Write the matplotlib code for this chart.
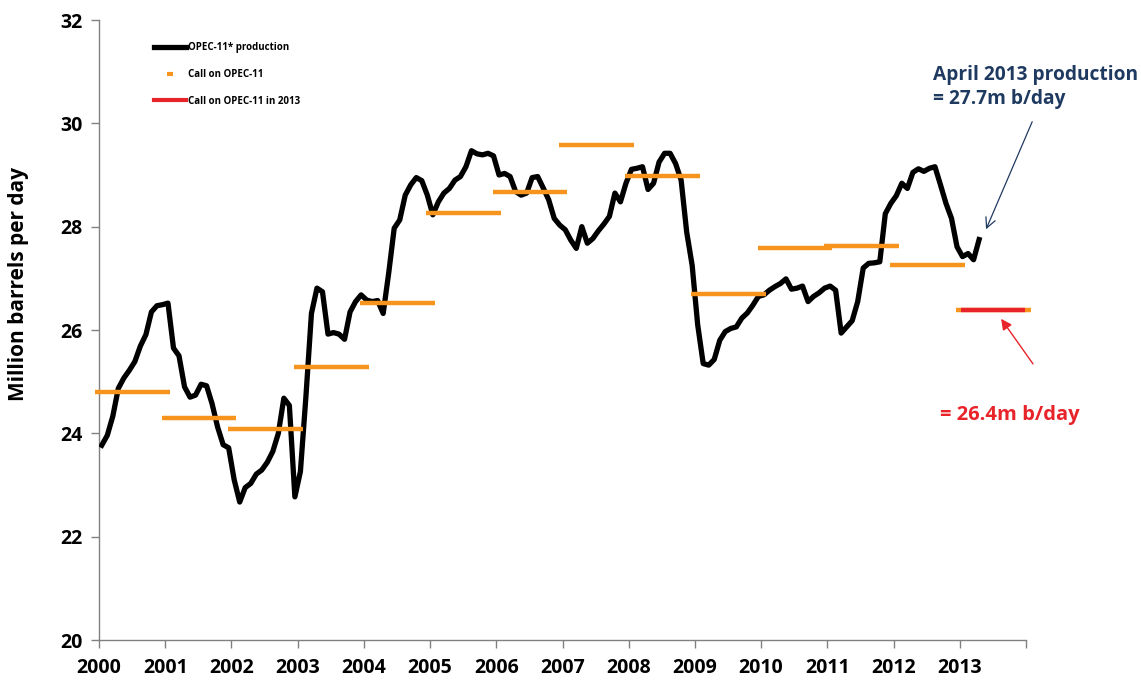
import numpy as np
import matplotlib.pyplot as plt
from matplotlib.lines import Line2D

plt.rcParams['font.family'] = ['Open Sans', 'DejaVu Sans']

# monthly OPEC-11 production, million b/d
prod_2000 = [23.77, 23.96, 24.33, 24.87, 25.07, 25.22, 25.39, 25.69, 25.91, 26.35, 26.47, 26.49]
prod_2001 = [26.52, 25.65, 25.50, 24.90, 24.70, 24.74, 24.95, 24.92, 24.57, 24.12, 23.78, 23.72]
prod_2002 = [23.10, 22.67, 22.95, 23.03, 23.21, 23.29, 23.44, 23.65, 24.00, 24.68, 24.54, 22.77]
prod_2003 = [23.26, 24.71, 26.32, 26.81, 26.74, 25.92, 25.95, 25.92, 25.82, 26.35, 26.55, 26.68]
prod_2004 = [26.58, 26.55, 26.57, 26.32, 27.10, 27.97, 28.13, 28.61, 28.81, 28.95, 28.89, 28.61]
prod_2005 = [28.23, 28.48, 28.65, 28.74, 28.90, 28.97, 29.16, 29.47, 29.41, 29.39, 29.42, 29.37]
prod_2006 = [29.00, 29.03, 28.97, 28.68, 28.61, 28.65, 28.95, 28.97, 28.75, 28.52, 28.16, 28.03]
prod_2007 = [27.94, 27.74, 27.58, 28.00, 27.68, 27.77, 27.92, 28.05, 28.20, 28.65, 28.48, 28.84]
prod_2008 = [29.11, 29.13, 29.16, 28.72, 28.84, 29.25, 29.42, 29.42, 29.22, 28.90, 27.90, 27.25]
prod_2009 = [26.10, 25.35, 25.32, 25.43, 25.80, 25.97, 26.03, 26.06, 26.23, 26.33, 26.48, 26.65]
prod_2010 = [26.68, 26.77, 26.84, 26.90, 26.99, 26.79, 26.81, 26.85, 26.55, 26.65, 26.72, 26.81]
prod_2011 = [26.85, 26.77, 25.94, 26.06, 26.18, 26.55, 27.20, 27.29, 27.30, 27.32, 28.25, 28.45]
prod_2012 = [28.60, 28.84, 28.74, 29.05, 29.12, 29.07, 29.13, 29.16, 28.81, 28.45, 28.16, 27.61]
prod_2013 = [27.42, 27.48, 27.36, 27.75]

production = np.concatenate([prod_2000, prod_2001, prod_2002, prod_2003, prod_2004,
                             prod_2005, prod_2006, prod_2007, prod_2008, prod_2009,
                             prod_2010, prod_2011, prod_2012, prod_2013])
months = 2000 + (np.arange(len(production)) + 0.5) / 12.0

call_years = np.arange(2000, 2014)
call_values = [24.80, 24.29, 24.08, 25.29, 26.52, 28.26, 28.68, 29.59, 28.99, 26.70,
               27.59, 27.62, 27.25, 26.39]
call_2013 = 26.39

orange = '#F7941D'
red = '#E8242A'
navy = '#1F3A60'
grey = '#808080'

fig = plt.figure(figsize=(11.41, 6.8), dpi=100)
ax = fig.add_axes([99/1141, 40/680, 927/1141, 620/680])

ax.plot(months, production, color='black', lw=3.8, solid_joinstyle='round', zorder=3)
ax.hlines(call_values, call_years - 0.055, call_years + 1.075, color=orange, lw=3.2,
          zorder=4, clip_on=False)
ax.hlines(call_2013, 2013.02, 2013.98, color=red, lw=3.2, zorder=5, clip_on=False)

ax.set_xlim(2000, 2014)
ax.set_ylim(20, 32)
ax.set_xticks(np.arange(2000, 2015))
ax.set_xticklabels([str(y) for y in range(2000, 2014)] + [''])
ax.set_yticks(np.arange(20, 33, 2))

for s in ['top', 'right']:
    ax.spines[s].set_visible(False)
for s in ['left', 'bottom']:
    ax.spines[s].set_color(grey)
    ax.spines[s].set_linewidth(1)
ax.tick_params(axis='both', colors=grey, length=6, width=1, labelcolor='black',
               labelsize=14)
for lab in ax.get_xticklabels() + ax.get_yticklabels():
    lab.set_fontweight('bold')
ax.tick_params(axis='x', pad=7)
ax.tick_params(axis='y', pad=6)

ax.set_ylabel('Million barrels per day', fontsize=15, fontweight='bold')
ax.yaxis.set_label_coords(-0.075, 0.574)

handles = [Line2D([], [], color='black', lw=3.8),
           Line2D([], [], color=orange, marker='_', ls='None', markersize=5, mew=3),
           Line2D([], [], color=red, lw=3)]
labels = ['OPEC-11* production', 'Call on OPEC-11', 'Call on OPEC-11 in 2013']
leg = ax.legend(handles, labels, loc='upper left', bbox_to_anchor=(0.05, 0.978),
                frameon=False, prop={'size': 7, 'weight': 'bold'},
                handlelength=3.3, handletextpad=0.15, labelspacing=1.62)

ax.text(2012.6, 30.70, 'April 2013 production\n= 27.7m b/day', color=navy,
        fontsize=13.8, fontweight='bold', ha='left', va='center', linespacing=1.3,
        clip_on=False)
ax.annotate('', xy=(2013.38, 27.90), xytext=(2014.11, 30.08),
            arrowprops=dict(arrowstyle='->', color=navy, lw=0.9, mutation_scale=18),
            annotation_clip=False)

ax.text(2012.7, 24.36, '= 26.4m b/day', color=red, fontsize=14.5, fontweight='bold',
        ha='left', va='center', clip_on=False)
ax.annotate('', xy=(2013.60, 26.26), xytext=(2014.13, 25.30),
            arrowprops=dict(arrowstyle='-|>', color=red, lw=1.0, mutation_scale=16),
            annotation_clip=False)

fig.savefig('out.png', dpi=100)
